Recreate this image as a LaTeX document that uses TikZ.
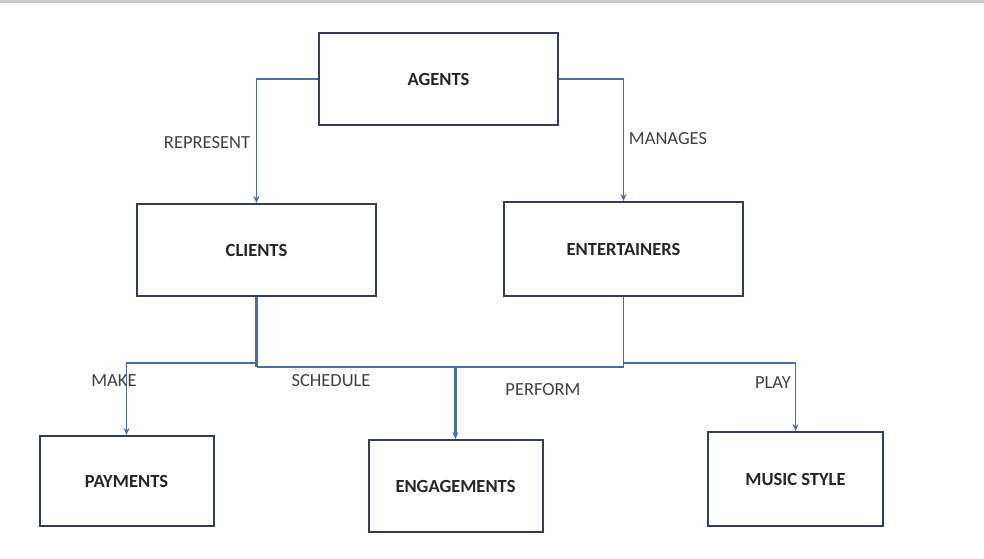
\documentclass[tikz,border=0pt]{standalone}
\usepackage{fontspec}
\setmainfont{Carlito}
\usetikzlibrary{arrows.meta}
\definecolor{boxline}{RGB}{52,62,90}
\definecolor{linkblue}{RGB}{76,108,168}
\definecolor{topband}{RGB}{204,204,204}
\begin{document}
\begin{tikzpicture}[x=1pt,y=-1pt,
        entity/.style={draw=boxline,line width=2pt,minimum width=239pt,minimum height=92pt,font=\fontsize{18.5}{20}\selectfont\bfseries,text=black!85,inner sep=0pt},
        small entity/.style={entity,minimum width=174pt},
        rel/.style={font=\fontsize{18.5}{20}\selectfont,text=black!75,inner sep=0pt},
        link/.style={draw=linkblue,line width=1.8pt},
        thick link/.style={draw=linkblue,line width=3.2pt},
        tip/.style={-{Stealth[length=7pt,width=6pt]}}]
    \useasboundingbox (0,0) rectangle (984,558);
    \fill[topband] (0,0) rectangle (984,3);
    % entities
    \node[entity] (agents) at (438.5,79) {AGENTS};
    \node[entity] (clients) at (256.5,250) {CLIENTS};
    \node[entity,minimum height=94pt] (entertainers) at (623.5,249) {ENTERTAINERS};
    \node[small entity,minimum height=90pt] (payments) at (126.5,481) {PAYMENTS};
    \node[small entity] (engagements) at (455.5,486) {ENGAGEMENTS};
    \node[small entity,minimum width=175pt,minimum height=94pt] (musicstyle) at (795.5,479) {MUSIC STYLE};
    % junctions
    \coordinate (makej) at (256.5,363);
    \coordinate (clientsj) at (256.5,367);
    \coordinate (entj) at (623.5,367);
    \coordinate (playj) at (623.5,363);
    % connectors
    \draw[link,tip] (agents.west) -| (clients.north);
    \draw[link,tip] (agents.east) -| (entertainers.north);
    \draw[thick link] (clients.south) -- (clientsj);
    \draw[link,tip] (makej) -| (payments.north);
    \draw[link] (clientsj) -- (entj) -- (entertainers.south);
    \draw[thick link,tip] (engagements.north |- clientsj) -- (engagements.north);
    \draw[link,tip] (playj) -| (musicstyle.north);
    % relationship labels
    \node[rel] (represent) at (207,143) {REPRESENT};
    \node[rel] (manages) at (668,139) {MANAGES};
    \node[rel] (make) at (114,381) {MAKE};
    \node[rel] (schedule) at (331,381) {SCHEDULE};
    \node[rel] (perform) at (543,390) {PERFORM};
    \node[rel] (play) at (773,383) {PLAY};
\end{tikzpicture}
\end{document}
